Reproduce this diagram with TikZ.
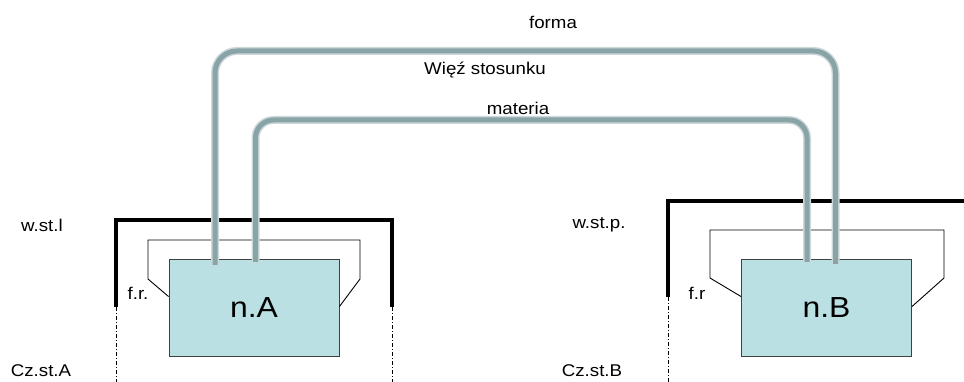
\documentclass[tikz,border=0pt]{standalone}
\usepackage{fontspec}
\setmainfont{Liberation Sans}
\newfontfamily\lab[FakeStretch=1.1]{Liberation Sans}
\usetikzlibrary{calc}
\definecolor{boxfill}{HTML}{BBE0E3}
\definecolor{pipemain}{HTML}{88A4A7}
\definecolor{pipelight}{HTML}{CDD8DA}
\begin{document}
\begin{tikzpicture}[x=1pt,y=-1pt,
  lbl/.style={font=\lab\fontsize{17}{20}\selectfont, inner sep=0pt},
  nbox/.style={draw=black!75, line width=0.9pt, fill=boxfill, minimum width=170pt, minimum height=97pt, font=\lab\fontsize{29}{34}\selectfont, inner sep=0pt},
  wall/.style={line width=3.3pt},
  framel/.style={line width=0.9pt},
  dd/.style={line width=0.7pt, dash pattern=on 4pt off 2pt on 1pt off 2pt},
  pipebase/.style={line width=8pt, draw=pipelight, line cap=butt},
  pipetop/.style={line width=5pt, draw=pipemain, line cap=butt}]
\useasboundingbox (0,0) rectangle (964,382);

% boxes
\node[nbox] (A) at (254,307.5) {n.A};
\node[nbox] (B) at (826.5,307.5) {n.B};

% walls (thick brackets) and dash-dot continuations
\coordinate (wAl) at (116,307);
\coordinate (wAr) at (392,307);
\coordinate (wBl) at (668,297);
\coordinate (wBr) at (964,201);
\draw[wall] (wAl) -- (116,220) -- (392,220) -- (wAr);
\draw[wall] (wBl) -- (668,201) -- (wBr);
\coordinate (dAl) at (116,382);
\coordinate (dAr) at (392,382);
\coordinate (dBl) at (668,382);
\draw[dd] (wAl) -- (dAl);
\draw[dd] (wAr) -- (dAr);
\draw[dd] (wBl) -- (dBl);

% thin frames
\draw[framel] ($(A.north west)+(0,38)$) -- (148,279) -- (148,240) -- (360,240) -- (360,279) -- ($(A.north east)+(0,48)$);
\draw[framel] ($(B.north west)+(0,38)$) -- (710,278) -- (710,230) -- (944,230) -- (944,278) -- ($(B.north east)+(0,48)$);

% pipes
\coordinate (pAo) at (215,265);
\coordinate (pBo) at (835.5,264);
\coordinate (pAi) at (255.5,262);
\coordinate (pBi) at (807,262);
\draw[pipebase, rounded corners=22pt] (pAo) -- (215,51) -- (835.5,51) -- (pBo);
\draw[pipetop, rounded corners=22pt] (pAo) -- (215,51) -- (835.5,51) -- (pBo);
\draw[pipebase, rounded corners=18pt] (pAi) -- (255.5,120) -- (807,120) -- (pBi);
\draw[pipetop, rounded corners=18pt] (pAi) -- (255.5,120) -- (807,120) -- (pBi);

% labels
\node[lbl] (forma) at (553,22) {forma};
\node[lbl] (wiez) at (485,70) {Więź stosunku};
\node[lbl] (mat) at (518,108) {materia};
\node[lbl] (wstl) at (42,225) {w.st.l};
\node[lbl] (wstp) at (599,225) {w.st.p.};
\node[lbl] (frA) at (138,293) {f.r.};
\node[lbl] (frB) at (697,293) {f.r};
\node[lbl] (czA) at (41,371) {Cz.st.A};
\node[lbl] (czB) at (592,371) {Cz.st.B};
\end{tikzpicture}
\end{document}
